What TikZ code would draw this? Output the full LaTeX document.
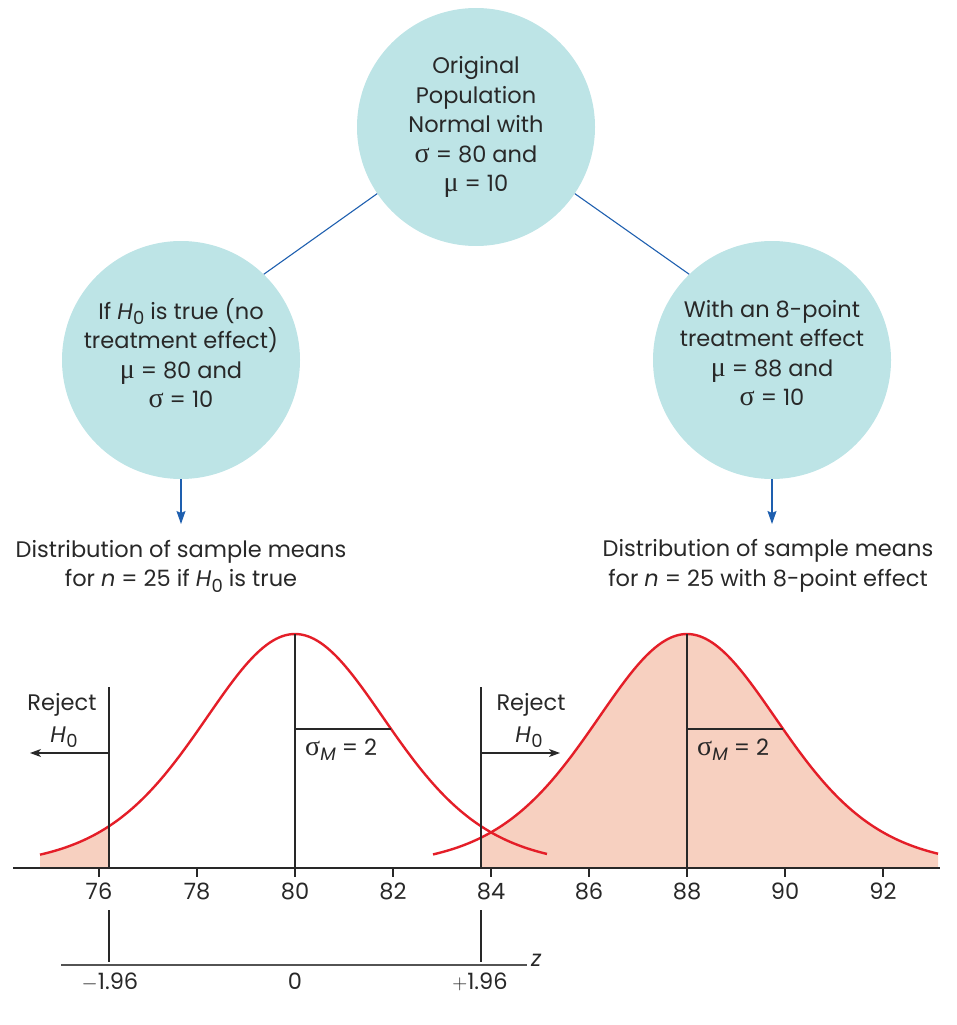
\documentclass[tikz,border=0pt]{standalone}
\usepackage{fontspec}
\setmainfont{Poppins}
\newfontfamily\grk{Liberation Serif}
\usetikzlibrary{arrows.meta}
\definecolor{circfill}{RGB}{189,228,230}
\definecolor{linkblue}{RGB}{30,95,175}
\definecolor{curvered}{RGB}{228,30,40}
\definecolor{tailfill}{RGB}{247,208,192}
\definecolor{ink}{RGB}{40,40,40}
\newcommand{\Hsub}{\textit{H}\kern0.3pt\raisebox{-0.45ex}{\scalebox{0.8}{0}}}
\newcommand{\sg}{{\grk\fontsize{28}{28}\selectfont σ}}
\newcommand{\mmu}{{\grk\fontsize{28}{28}\selectfont μ}}
\begin{document}
\begin{tikzpicture}[x=1pt,y=-1pt,
  circ/.style={circle,fill=circfill,minimum size=238pt,inner sep=0pt},
  txt/.style={align=center,text=ink,font=\fontsize{22.5}{29.5}\selectfont,inner sep=0pt},
  lbl/.style={text=ink,font=\fontsize{22.5}{29}\selectfont,inner sep=0pt},
  link/.style={draw=linkblue,line width=1.1pt},
  down/.style={draw=linkblue,line width=1.3pt,-{Stealth[length=13pt,width=9pt,inset=2pt]}},
  thin/.style={draw=ink,line width=1.1pt},
  rej/.style={draw=ink,line width=1.1pt,-{Stealth[length=11pt,width=8pt,inset=3pt]}},
  curve/.style={draw=curvered,line width=2.4pt},
  ax/.style={draw=ink,line width=1.4pt},
  zax/.style={draw=ink!80,line width=2pt}]
\useasboundingbox (0,0) rectangle (957,1025);
% circles
\node[circ] (top) at (476,127) {};
\node[circ] (left) at (181,360) {};
\node[circ] (right) at (772,360) {};
\node[txt] (toptxt) at (476,127) {Original\\Population\\Normal with\\\sg\ = 80 and\\\mmu\ = 10};
\node[txt] (lefttxt) at (181,353) {If \Hsub\ is true (no\\treatment effect)\\\mmu\ = 80 and\\\sg\ = 10};
\node[txt] (righttxt) at (772,353) {With an 8-point\\treatment effect\\\mmu\ = 88 and\\\sg\ = 10};
\draw[link] (top.214) -- (left.46);
\draw[link] (top.326) -- (right.134);
% distribution labels
\node[txt] (dl) at (181,566) {Distribution of sample means\\for \textit{n} = 25 if \Hsub\ is true};
\node[txt] (dr) at (768,566) {Distribution of sample means\\for \textit{n} = 25 with 8-point effect};
\coordinate (dlA) at (181,524);
\coordinate (drA) at (772,524);
\draw[down] (left.south) -- (dlA);
\draw[down] (right.south) -- (drA);
% tails
\fill[tailfill] (40,868) -- plot[domain=40:109,samples=40] (\x,{868-234/(1+((\x-295)/290)^2)^5}) -- (109,868) -- cycle;
\fill[tailfill] (481,868) -- plot[domain=481:938,samples=120] (\x,{868-234/(1+((\x-687)/290)^2)^5}) -- (938,868) -- cycle;
% curves
\draw[curve] plot[domain=40:547,samples=160,smooth] (\x,{868-234/(1+((\x-295)/290)^2)^5});
\draw[curve] plot[domain=433:938,samples=160,smooth] (\x,{868-234/(1+((\x-687)/290)^2)^5});
% centre lines and sigma lines
\coordinate (pL) at (295,634); \coordinate (bL) at (295,868);
\coordinate (pR) at (687,634); \coordinate (bR) at (687,868);
\draw[thin] (pL) -- (bL);
\draw[thin] (pR) -- (bR);
\coordinate (sL0) at (295,729); \coordinate (sL1) at (391,729);
\coordinate (sR0) at (687,729); \coordinate (sR1) at (783,729);
\draw[thin] (sL0) -- (sL1);
\draw[thin] (sR0) -- (sR1);
\node[lbl,anchor=base west] (smL) at (305,755) {\sg\raisebox{-0.45ex}{\scalebox{0.8}{\textit{M}}} = 2};
\node[lbl,anchor=base west] (smR) at (697,755) {\sg\raisebox{-0.45ex}{\scalebox{0.8}{\textit{M}}} = 2};
% critical lines
\coordinate (cLt) at (109,687); \coordinate (cLb) at (109,868);
\coordinate (cRt) at (481,687); \coordinate (cRb) at (481,868);
\draw[thin] (cLt) -- (cLb);
\draw[thin] (cRt) -- (cRb);
\coordinate (aL0) at (109,753); \coordinate (aL1) at (30,753);
\coordinate (aR0) at (481,753); \coordinate (aR1) at (560,753);
\draw[rej] (aL0) -- (aL1);
\draw[rej] (aR0) -- (aR1);
\node[lbl,anchor=base] (rejL) at (62,710) {Reject};
\node[lbl,anchor=base] (hL) at (64,742) {\Hsub};
\node[lbl,anchor=base] (rejR) at (531,710) {Reject};
\node[lbl,anchor=base] (hR) at (529,742) {\Hsub};
% x axis
\coordinate (ax0) at (13,868); \coordinate (ax1) at (940,868);
\draw[ax] (ax0) -- (ax1);
\foreach \v in {76,78,...,92}{
  \pgfmathsetmacro{\px}{295+49*(\v-80)}
  \draw[thin] (\px,868) -- (\px,877);
  \node[lbl,anchor=base] (t\v) at (\px,899) {\v};
}
% z axis
\coordinate (z0) at (61,965); \coordinate (z1) at (527,965);
\draw[zax] (z0) -- (z1);
\node[lbl,anchor=base west] (zl) at (531,966) {\textit{z}};
\coordinate (zLt) at (109,910); \coordinate (zLb) at (109,962);
\coordinate (zRt) at (481,910); \coordinate (zRb) at (481,962);
\draw[thin] (zLt) -- (zLb);
\draw[thin] (zRt) -- (zRb);
\node[lbl,anchor=base] (zm) at (110,989) {$-$1.96};
\node[lbl,anchor=base] (z0l) at (295,989) {0};
\node[lbl,anchor=base] (zp) at (480,989) {$+$1.96};
\end{tikzpicture}
\end{document}
